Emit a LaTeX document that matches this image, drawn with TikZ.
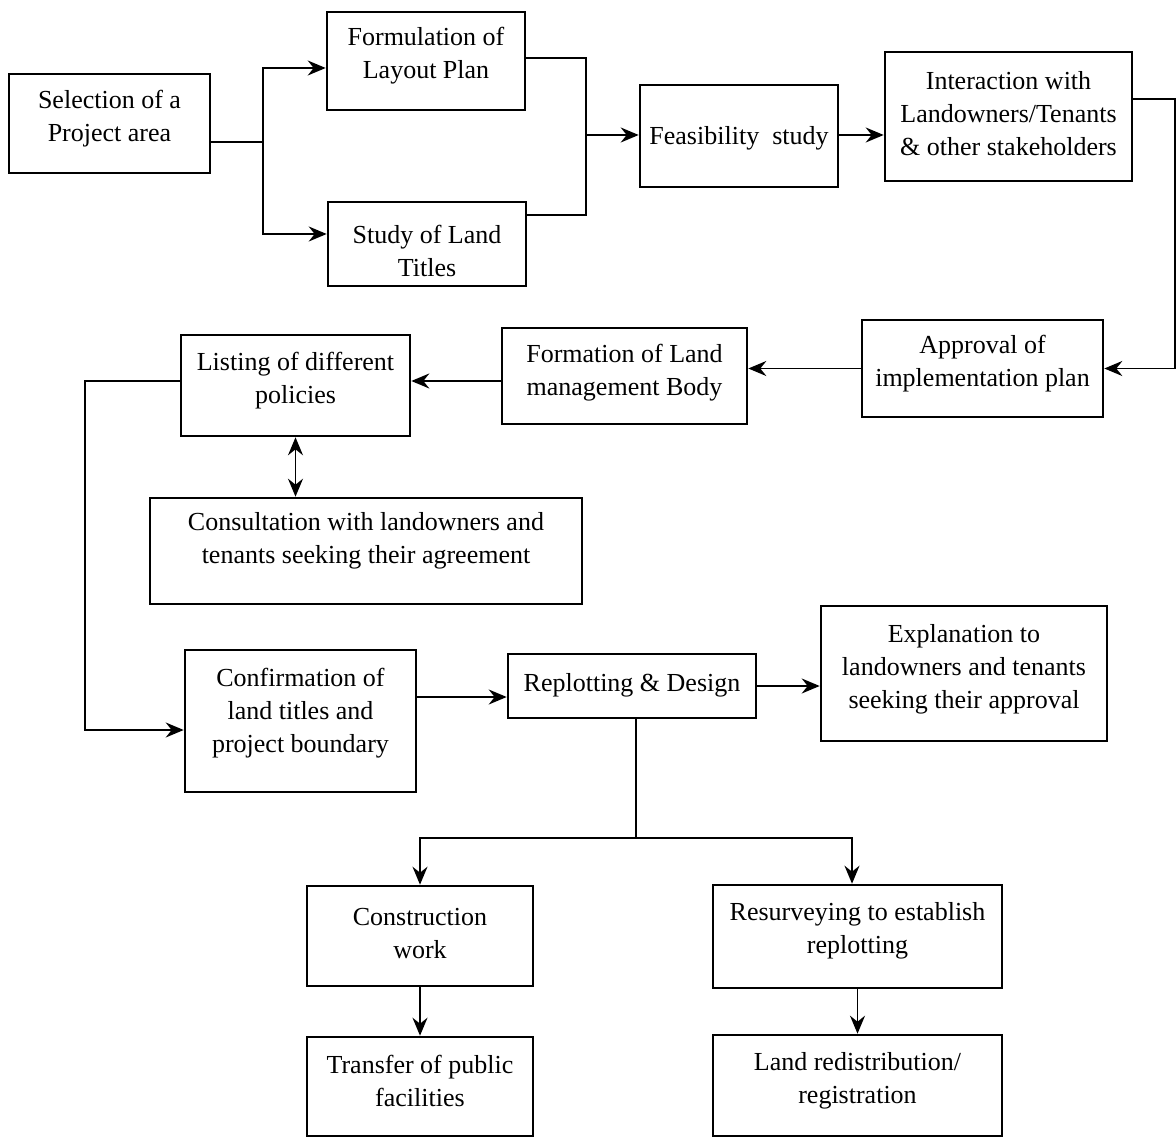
\documentclass[tikz,border=0pt]{standalone}
\usepackage{fontspec}
\setmainfont{Liberation Serif}
\usetikzlibrary{arrows.meta,fit}

\begin{document}
\begin{tikzpicture}[x=0.5pt,y=-0.5pt,
  flowbox/.style={draw=black, line width=1.3pt, inner sep=0pt, fill=none},
  flowtext/.style={align=center, inner sep=0pt, yshift=-1.5pt, font=\fontsize{13}{16.5}\selectfont},
  link/.style={draw=black, line width=0.9pt},
  tip/.tip={Stealth[length=9pt,width=7.5pt,inset=3pt]},
  arr/.style={link,-tip},
  arrboth/.style={link,tip-tip}]
\useasboundingbox (0,0) rectangle (1176,1138);

% boxes: corner points, then the text centred at its own height
\node[flowbox, fit={(9,74)(210,173)}] (sel) {};
\node[flowtext] (selT) at (109.5,116) {Selection of a\\Project area};

\node[flowbox, fit={(327,12)(525,110)}] (form) {};
\node[flowtext] (formT) at (426,53) {Formulation of\\Layout Plan};

\node[flowbox, fit={(328,202)(526,286)}] (study) {};
\node[flowtext] (studyT) at (427,248) {Study of Land\\Titles};

\node[flowbox, fit={(640,85)(838,187)}] (feas) {};
\node[flowtext] (feasT) at (739,135) {Feasibility\ \ study};

\node[flowbox, fit={(885,52)(1132,181)}] (inter) {};
\node[flowtext] (interT) at (1008.5,111) {Interaction with\\Landowners/Tenants\\\& other stakeholders};

\node[flowbox, fit={(862,320)(1103,417)}] (appr) {};
\node[flowtext] (apprT) at (982.5,361) {Approval of\\implementation plan};

\node[flowbox, fit={(502,328)(747,424)}] (formn) {};
\node[flowtext] (formnT) at (624.5,370) {Formation of Land\\management Body};

\node[flowbox, fit={(181,335)(410,436)}] (list) {};
\node[flowtext] (listT) at (295.5,378) {Listing of different\\policies};

\node[flowbox, fit={(150,498)(582,604)}] (cons) {};
\node[flowtext] (consT) at (366,538) {Consultation with landowners and\\tenants seeking their agreement};

\node[flowbox, fit={(185,650)(416,792)}] (conf) {};
\node[flowtext] (confT) at (300.5,710) {Confirmation of\\land titles and\\project boundary};

\node[flowbox, fit={(508,654)(756,718)}] (repl) {};
\node[flowtext] (replT) at (632,682) {Replotting \& Design};

\node[flowbox, fit={(821,606)(1107,741)}] (expl) {};
\node[flowtext] (explT) at (964,666) {Explanation to\\landowners and tenants\\seeking their approval};

\node[flowbox, fit={(307,886)(533,986)}] (constr) {};
\node[flowtext] (constrT) at (420,931) {Construction\\work};

\node[flowbox, fit={(713,885)(1002,988)}] (resurv) {};
\node[flowtext] (resurvT) at (857.5,928) {Resurveying to establish\\replotting};

\node[flowbox, fit={(307,1037)(533,1136)}] (transf) {};
\node[flowtext] (transfT) at (420,1078) {Transfer of public\\facilities};

\node[flowbox, fit={(713,1035)(1002,1136)}] (landr) {};
\node[flowtext] (landrT) at (857.5,1078) {Land redistribution/\\registration};

% junction points of the connectors
\coordinate (j1) at (263,142);
\coordinate (j1top) at (263,68);
\coordinate (j1bot) at (263,234);
\coordinate (j2) at (586,135);
\coordinate (j2top) at (586,58);
\coordinate (j2bot) at (586,215);
\coordinate (j3) at (1175,99);
\coordinate (j4) at (85,381);
\coordinate (j5) at (85,730);
\coordinate (j6) at (636,697);
\coordinate (jm) at (636,838);
\coordinate (jl) at (420,838);
\coordinate (jr) at (852,838);

% connectors
\draw[link] (j1 -| sel.east) -- (j1);
\draw[arrboth] (j1top -| form.west) -- (j1top) -- (j1bot) -- (j1bot -| study.west);
\draw[link] (j2top -| form.east) -- (j2top) -- (j2bot) -- (j2bot -| study.east);
\draw[arr] (j2) -- (j2 -| feas.west);
\draw[arr] (j2 -| feas.east) -- (j2 -| inter.west);
\draw[arr] (j3 -| inter.east) -- (j3) -- (j3 |- appr.east) -- (appr.east);
\draw[arr] (appr.west) -- (appr.west -| formn.east);
\draw[arr] (j4 -| formn.west) -- (j4 -| list.east);
\draw[arrboth] (list.south) -- (list.south |- cons.north);
\draw[arr] (j4 -| list.west) -- (j4) -- (j5) -- (j5 -| conf.west);
\draw[arr] (j6 -| conf.east) -- (j6 -| repl.west);
\draw[arr] (repl.east) -- (repl.east -| expl.west);
\draw[link] (jm |- repl.south) -- (jm);
\draw[arrboth] (jl |- constr.north) -- (jl) -- (jr) -- (jr |- resurv.north);
\draw[arr] (constr.south) -- (transf.north);
\draw[arr] (resurv.south) -- (landr.north);
\end{tikzpicture}
\end{document}
